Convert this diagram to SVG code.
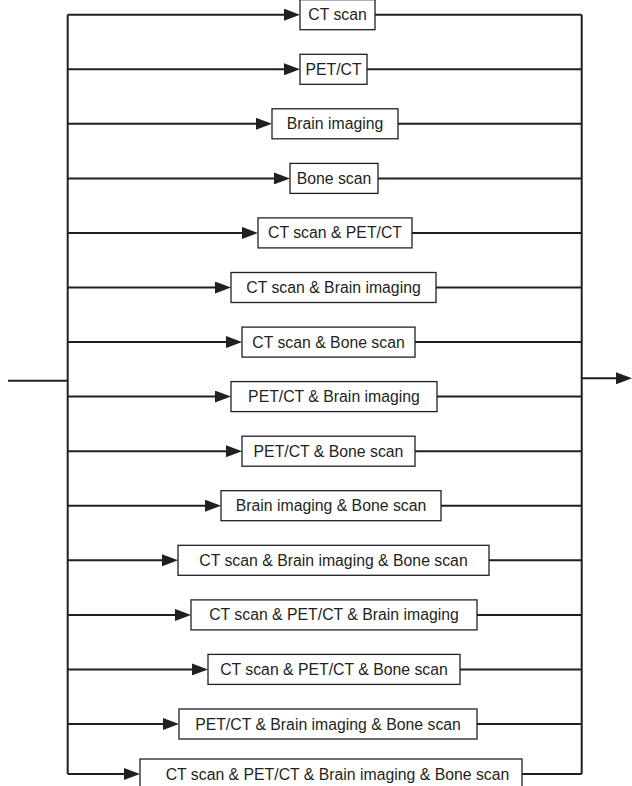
<svg xmlns="http://www.w3.org/2000/svg" width="632" height="786" viewBox="0 0 632 786">
<style>
.bx{fill:#fff;stroke:#231f20;stroke-width:1.3}
.t{font-family:"Liberation Sans",Arial,sans-serif;font-size:15.8px;fill:#231f20;text-anchor:middle}
.c{fill:none;stroke:#231f20;stroke-width:2}
.a{fill:none;stroke:#231f20;stroke-width:2;marker-end:url(#ah)}
</style>
<defs>
<marker id="ah" markerUnits="userSpaceOnUse" markerWidth="16" markerHeight="12" refX="12" refY="6" orient="auto">
<path d="M0,0 L16,6 L0,12 z" fill="#231f20"/>
</marker>
</defs>
<rect width="632" height="786" fill="#fff"/>
<g id="connectors">
<path class="c" d="M8,380.7 H67.7"/>
<path class="c" d="M67.7,14.7 V774"/>
<path class="c" d="M581.7,14.7 V774"/>
<path class="a" d="M581.7,378.3 H628"/>
<path class="a" d="M67.7,14.7 H296"/><path class="c" d="M375,14.7 H581.7"/>
<path class="a" d="M67.7,69.3 H296"/><path class="c" d="M367,69.3 H581.7"/>
<path class="a" d="M67.7,123.8 H268"/><path class="c" d="M398,123.8 H581.7"/>
<path class="a" d="M67.7,178.4 H286"/><path class="c" d="M378,178.4 H581.7"/>
<path class="a" d="M67.7,232.9 H254"/><path class="c" d="M412,232.9 H581.7"/>
<path class="a" d="M67.7,287.5 H227"/><path class="c" d="M436,287.5 H581.7"/>
<path class="a" d="M67.7,342.1 H238"/><path class="c" d="M415,342.1 H581.7"/>
<path class="a" d="M67.7,396.6 H227"/><path class="c" d="M437,396.6 H581.7"/>
<path class="a" d="M67.7,451.2 H238"/><path class="c" d="M415,451.2 H581.7"/>
<path class="a" d="M67.7,505.7 H217"/><path class="c" d="M441,505.7 H581.7"/>
<path class="a" d="M67.7,560.3 H174"/><path class="c" d="M489,560.3 H581.7"/>
<path class="a" d="M67.7,614.9 H187"/><path class="c" d="M477,614.9 H581.7"/>
<path class="a" d="M67.7,669.4 H204"/><path class="c" d="M460,669.4 H581.7"/>
<path class="a" d="M67.7,724 H175"/><path class="c" d="M477,724 H581.7"/>
<path class="a" d="M67.7,774 H136"/><path class="c" d="M522,774 H581.7"/>
</g>
<g id="n1"><rect class="bx" x="300" y="-0.3" width="75" height="30"/><text class="t" x="337.5" y="20.2">CT scan</text></g>
<g id="n2"><rect class="bx" x="300" y="54.3" width="67" height="30"/><text class="t" x="333.5" y="74.8">PET/CT</text></g>
<g id="n3"><rect class="bx" x="272" y="108.8" width="126" height="30"/><text class="t" x="335" y="129.3">Brain imaging</text></g>
<g id="n4"><rect class="bx" x="290" y="163.4" width="88" height="30"/><text class="t" x="334" y="183.9">Bone scan</text></g>
<g id="n5"><rect class="bx" x="258" y="217.9" width="154" height="30"/><text class="t" x="335" y="238.4">CT scan &amp; PET/CT</text></g>
<g id="n6"><rect class="bx" x="231" y="272.5" width="205" height="30"/><text class="t" x="333.5" y="293">CT scan &amp; Brain imaging</text></g>
<g id="n7"><rect class="bx" x="242" y="327.1" width="173" height="30"/><text class="t" x="328.5" y="347.6">CT scan &amp; Bone scan</text></g>
<g id="n8"><rect class="bx" x="231" y="381.6" width="206" height="30"/><text class="t" x="334" y="402.1">PET/CT &amp; Brain imaging</text></g>
<g id="n9"><rect class="bx" x="242" y="436.2" width="173" height="30"/><text class="t" x="328.5" y="456.7">PET/CT &amp; Bone scan</text></g>
<g id="n10"><rect class="bx" x="221" y="490.7" width="220" height="30"/><text class="t" x="331" y="511.2">Brain imaging &amp; Bone scan</text></g>
<g id="n11"><rect class="bx" x="178" y="545.3" width="311" height="30"/><text class="t" x="333.5" y="565.8">CT scan &amp; Brain imaging &amp; Bone scan</text></g>
<g id="n12"><rect class="bx" x="191" y="599.9" width="286" height="30"/><text class="t" x="334" y="620.4">CT scan &amp; PET/CT &amp; Brain imaging</text></g>
<g id="n13"><rect class="bx" x="208" y="654.4" width="252" height="30"/><text class="t" x="334" y="674.9">CT scan &amp; PET/CT &amp; Bone scan</text></g>
<g id="n14"><rect class="bx" x="179" y="709" width="298" height="30"/><text class="t" x="328" y="729.5">PET/CT &amp; Brain imaging &amp; Bone scan</text></g>
<g id="n15"><rect class="bx" x="140" y="759" width="382" height="30"/><text class="t" x="165.7" y="779.5" style="text-anchor:start">CT scan &amp; PET/CT &amp; Brain imaging &amp; Bone scan</text></g>
</svg>
